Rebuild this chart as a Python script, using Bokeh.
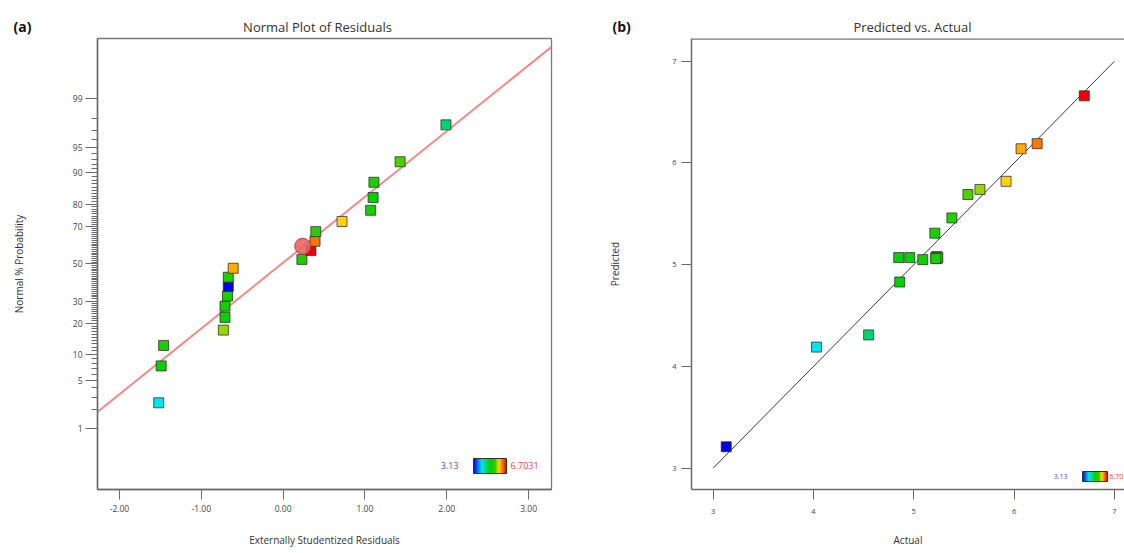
import math
from statistics import NormalDist
from bokeh.plotting import figure
from bokeh.models import (Range1d, FixedTicker, Label, ColorBar, Span,
                          LinearColorMapper, ColumnDataSource, NumeralTickFormatter,
                          CustomJSTickFormatter)
from bokeh.layouts import row, column
from bokeh.embed import file_html
from bokeh.resources import INLINE

# ---------------- data ----------------
# (a) Normal plot of residuals
resid = [-1.52, -1.49, -1.46, -0.73, -0.71, -0.71, -0.68, -0.67, -0.67, -0.61,
         0.23, 0.34, 0.39, 0.40, 0.72, 1.07, 1.10, 1.11, 1.43, 1.99]
norm_prob = [2.5, 7.5, 12.5, 17.5, 22.5, 27.5, 32.5, 37.5, 42.5, 47.5,
             52.5, 57.5, 62.5, 67.5, 72.5, 77.5, 82.5, 87.5, 92.5, 97.5]
resid_response = [4.03, 4.86, 5.21, 5.66, 4.96, 5.09, 5.22, 3.13, 5.23, 6.07,
                  5.24, 6.70, 6.23, 5.38, 5.92, 5.23, 4.85, 5.22, 5.54, 4.55]
highlight_resid = [0.24]
highlight_prob = [59.8]
fit_intercept = 0.016   # normal-score units
fit_slope = 0.928
prob_major = [1, 5, 10, 20, 30, 50, 70, 80, 90, 95, 99]
resid_ticks = [-2, -1, 0, 1, 2, 3]

# (b) Predicted vs actual
actual = [3.13, 4.03, 4.55, 4.86, 4.85, 4.96, 5.09, 5.22, 5.23, 5.23,
          5.24, 5.22, 5.21, 5.38, 5.54, 5.66, 5.92, 6.07, 6.23, 6.70]
predicted = [3.21, 4.19, 4.31, 4.83, 5.07, 5.07, 5.05, 5.07, 5.06, 5.08,
             5.07, 5.06, 5.31, 5.46, 5.69, 5.74, 5.82, 6.14, 6.19, 6.66]
diag = [3, 7]
av_ticks = [3, 4, 5, 6, 7]

resp_low, resp_high = 3.13, 6.7031

# ---------------- palette ----------------
stops = [(0.00, (0, 0, 230)), (0.25, (0, 228, 238)), (0.40, (0, 212, 110)),
         (0.48, (0, 208, 0)), (0.66, (45, 205, 0)), (0.71, (150, 215, 0)),
         (0.78, (255, 212, 0)), (0.83, (255, 165, 0)), (0.87, (255, 120, 0)),
         (1.00, (238, 0, 0))]
pal = []
for i in range(256):
    t = i / 255
    for (a, ca), (b, cb) in zip(stops[:-1], stops[1:]):
        if a <= t <= b:
            f = (t - a) / (b - a)
            c = [round(ca[k] + (cb[k] - ca[k]) * f) for k in range(3)]
            pal.append("#%02x%02x%02x" % tuple(c))
            break
mapper = LinearColorMapper(palette=pal, low=resp_low, high=resp_high)

FONT = "Open Sans"
AX = "#6a6a6a"
TXT = "#333333"
HDR = 36          # header strip height
H = 553 - HDR     # plot height

nd = NormalDist()

def lab(p, text, x, y, size, color=TXT, align="center", base="middle", angle=0,
        style="normal", units="screen"):
    p.add_layout(Label(x=x, y=y, x_units=units, y_units=units, text=text,
                       text_font=FONT, text_font_size=size, text_color=color,
                       text_align=align, text_baseline=base, angle=angle,
                       text_font_style=style))

def colorbar(loc, w, h):
    return ColorBar(color_mapper=mapper, orientation="horizontal", location=loc,
                    width=w, height=h, padding=0, margin=0, title=None,
                    ticker=FixedTicker(ticks=[]), major_label_text_font_size="0px",
                    major_tick_line_color=None, minor_tick_line_color=None,
                    bar_line_color="#303030", border_line_color=None,
                    background_fill_alpha=0, label_standoff=0)

def style_axis_title(ax, text, standoff):
    ax.axis_label = text
    ax.axis_label_text_font = FONT
    ax.axis_label_text_font_size = "10px"
    ax.axis_label_text_font_style = "normal"
    ax.axis_label_text_color = TXT
    ax.axis_label_standoff = standoff

# ---------------- header strip (panel letters and titles) ----------------
hdr = figure(width=1124, height=HDR, min_border=0, toolbar_location=None,
             output_backend="svg", x_range=Range1d(0, 1124), y_range=Range1d(0, HDR),
             x_axis_location=None, y_axis_location=None)
hdr.grid.visible = False
hdr.outline_line_color = None
lab(hdr, "(a)", 13, 10, "14px", color="#111111", align="left", style="bold")
lab(hdr, "Normal Plot of Residuals", 317, 10, "13px")
lab(hdr, "(b)", 612, 10, "14px", color="#111111", align="left", style="bold")
lab(hdr, "Predicted vs. Actual", 912, 10, "13px")

# ---------------- (a) ----------------
xa0, xa1 = -2.268, 3.280
za0, za1 = -3.183, 3.178
p1 = figure(width=590, height=H, min_border_left=97, min_border_right=39,
            min_border_top=2, min_border_bottom=64, toolbar_location=None,
            output_backend="svg", x_range=Range1d(xa0, xa1), y_range=Range1d(za0, za1))
p1.grid.visible = False
p1.outline_line_color = "#7a7a7a"
p1.outline_line_width = 1.3

zmaj = [nd.inv_cdf(v / 100) for v in prob_major]
zmin = [nd.inv_cdf(v / 100) for v in range(2, 99) if v not in prob_major]
p1.yaxis.ticker = FixedTicker(ticks=zmaj, minor_ticks=zmin)
p1.yaxis.formatter = CustomJSTickFormatter(args=dict(zs=zmaj, labels=[str(v) for v in prob_major]), code="""
let best = 0, bd = 1e9;
for (let i = 0; i < zs.length; i++) { const d = Math.abs(zs[i] - tick); if (d < bd) { bd = d; best = i; } }
return labels[best];
""")
p1.xaxis.ticker = FixedTicker(ticks=resid_ticks, minor_ticks=[])
p1.xaxis.formatter = NumeralTickFormatter(format="0.00")
for ax in (p1.xaxis, p1.yaxis):
    ax.axis_line_color = AX
    ax.axis_line_width = 1.5
    ax.major_tick_line_color = AX
    ax.minor_tick_line_color = AX
    ax.major_tick_in = 0
    ax.minor_tick_in = 0
    ax.major_label_text_font = FONT
    ax.major_label_text_font_size = "8.5px"
    ax.major_label_text_color = "#444444"
p1.yaxis.major_tick_out = 12
p1.yaxis.minor_tick_out = 6
p1.yaxis.major_label_standoff = 3
p1.xaxis.major_tick_out = 10
p1.xaxis.major_label_standoff = 5
style_axis_title(p1.below[0], "Externally Studentized Residuals", 18)
style_axis_title(p1.left[0], "Normal % Probability", 44)

src_line = ColumnDataSource(dict(x=[xa0, xa1],
                                 y=[fit_intercept + fit_slope * xa0, fit_intercept + fit_slope * xa1]))
p1.line("x", "y", source=src_line, line_color="#f28a8a", line_width=2)

src_a = ColumnDataSource(dict(x=resid, y=[nd.inv_cdf(v / 100) for v in norm_prob], r=resid_response))
p1.scatter("x", "y", source=src_a, marker="square", size=10,
           fill_color={"field": "r", "transform": mapper},
           line_color="#2b2b2b", line_alpha=0.75, line_width=1)
src_h = ColumnDataSource(dict(x=highlight_resid, y=[nd.inv_cdf(v / 100) for v in highlight_prob]))
p1.scatter("x", "y", source=src_h, marker="circle", size=16,
           fill_color="#ec6464", fill_alpha=0.9, line_color="#a04848", line_width=1)

lab(p1, "3.13", 361, 24, "9px", color="#5050c0", align="right")
lab(p1, "6.7031", 413, 24, "9px", color="#e04848", align="left")
p1.add_layout(colorbar((376, 16), 33, 15))

# ---------------- (b) ----------------
xb0, xb1 = 2.784, 7.101
yb0, yb1 = 2.790, 7.224
p2 = figure(width=534, height=H, min_border_left=101, min_border_right=0,
            min_border_top=0, min_border_bottom=59, toolbar_location=None,
            output_backend="svg", x_range=Range1d(xb0, xb1), y_range=Range1d(yb0, yb1))
p2.grid.visible = False
p2.outline_line_color = None
for ax in (p2.below[0], p2.left[0]):
    ax.ticker = FixedTicker(ticks=av_ticks, minor_ticks=[])
    ax.axis_line_color = AX
    ax.axis_line_width = 1.5
    ax.major_tick_line_color = AX
    ax.major_tick_in = 0
    ax.major_tick_out = 10
    ax.minor_tick_line_color = None
    ax.major_label_text_font = FONT
    ax.major_label_text_font_size = "7.5px"
    ax.major_label_text_color = "#444444"
p2.left[0].major_label_standoff = 5
p2.below[0].major_label_standoff = 9
style_axis_title(p2.below[0], "Actual", 16)
style_axis_title(p2.left[0], "Predicted", 47)
# top border of the frame (its right side runs off the page)
p2.add_layout(Span(location=yb1, dimension="width", line_color="#7a7a7a", line_width=2.6))

p2.line(diag, diag, line_color="#3a3a3a", line_width=1)
src_b = ColumnDataSource(dict(x=actual, y=predicted, r=actual))
p2.scatter("x", "y", source=src_b, marker="square", size=10,
           fill_color={"field": "r", "transform": mapper},
           line_color="#2b2b2b", line_alpha=0.75, line_width=1)

lab(p2, "3.13", 376, 13, "7px", color="#5050c0", align="right")
lab(p2, "6.7031", 418, 13, "7px", color="#e04848", align="left")
p2.add_layout(colorbar((391, 8), 25, 10))

layout = column(hdr, row(p1, p2))
open("out.html", "w").write(file_html(layout, INLINE))
